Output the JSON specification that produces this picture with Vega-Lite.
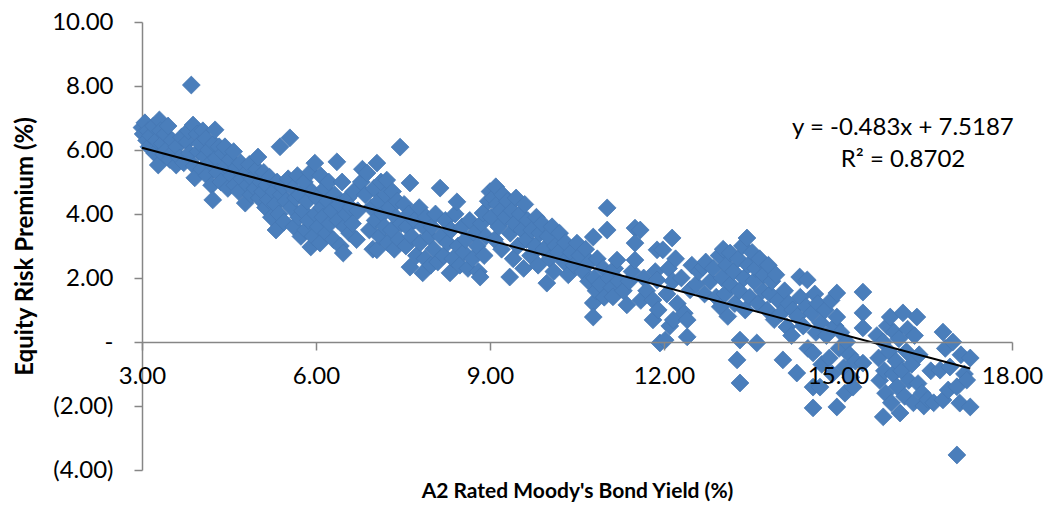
{
  "$schema": "https://vega.github.io/schema/vega-lite/v6.json",
  "width": 870,
  "height": 448,
  "autosize": "none",
  "padding": {"left": 142, "top": 22, "right": 34, "bottom": 36},
  "background": "white",
  "config": {"view": {"stroke": null}, "font": "Lato"},
  "datasets": {
    "pts": [
      {"x":3.0,"y":6.7},{"x":3.02,"y":6.5},{"x":3.05,"y":6.85},{"x":3.08,"y":6.3},{"x":3.1,"y":6.6},{"x":3.12,"y":6.1},{"x":3.15,"y":6.45},{"x":3.2,"y":6.75},{"x":3.22,"y":5.9},{"x":3.25,"y":6.3},
      {"x":3.28,"y":5.53},{"x":3.3,"y":6.94},{"x":3.32,"y":6.6},{"x":3.35,"y":6.2},{"x":3.38,"y":5.85},{"x":3.4,"y":6.5},{"x":3.42,"y":6.0},{"x":3.45,"y":6.75},{"x":3.48,"y":5.7},
      {"x":3.52,"y":6.3},{"x":3.55,"y":5.95},{"x":3.59,"y":5.53},{"x":3.6,"y":6.1},{"x":3.65,"y":5.75},{"x":3.68,"y":6.4},{"x":3.72,"y":5.6},
      {"x":3.78,"y":6.25},{"x":3.8,"y":6.6},{"x":3.82,"y":5.9},{"x":3.85,"y":8.03},{"x":3.88,"y":6.78},{"x":3.9,"y":5.5},{"x":3.91,"y":5.13},{"x":3.95,"y":6.5},{"x":3.97,"y":5.95},
      {"x":4.0,"y":6.2},{"x":4.03,"y":5.4},{"x":4.05,"y":6.6},{"x":4.08,"y":5.8},{"x":4.1,"y":6.35},{"x":4.12,"y":5.2},{"x":4.15,"y":6.0},{"x":4.18,"y":5.6},{"x":4.2,"y":4.9},{"x":4.22,"y":4.44},{"x":4.24,"y":6.2},
      {"x":4.26,"y":6.63},{"x":4.28,"y":5.75},{"x":4.3,"y":5.3},{"x":4.33,"y":6.1},{"x":4.36,"y":5.0},{"x":4.4,"y":5.9},{"x":4.43,"y":6.1},{"x":4.45,"y":5.5},{"x":4.48,"y":4.8},
      {"x":4.52,"y":5.7},{"x":4.55,"y":5.2},{"x":4.58,"y":5.95},{"x":4.6,"y":4.9},{"x":4.63,"y":5.45},{"x":4.67,"y":4.7},{"x":4.7,"y":5.6},{"x":4.72,"y":5.1},
      {"x":4.78,"y":4.34},{"x":4.8,"y":5.3},{"x":4.82,"y":4.9},{"x":4.85,"y":5.55},{"x":4.88,"y":4.6},{"x":4.9,"y":5.1},{"x":4.95,"y":4.8},{"x":4.98,"y":5.4},
      {"x":5.0,"y":5.78},{"x":5.02,"y":4.5},{"x":5.05,"y":5.0},{"x":5.08,"y":4.7},{"x":5.1,"y":5.3},{"x":5.13,"y":4.2},{"x":5.15,"y":4.9},{"x":5.18,"y":4.45},{"x":5.2,"y":5.15},{"x":5.23,"y":3.9},
      {"x":5.27,"y":4.7},{"x":5.3,"y":4.3},{"x":5.31,"y":3.5},{"x":5.33,"y":5.0},{"x":5.36,"y":4.0},{"x":5.38,"y":6.1},{"x":5.4,"y":4.6},{"x":5.43,"y":4.85},{"x":5.45,"y":3.75},{"x":5.48,"y":4.4},
      {"x":5.52,"y":5.1},{"x":5.55,"y":6.38},{"x":5.57,"y":4.2},{"x":5.6,"y":4.8},{"x":5.62,"y":3.6},{"x":5.65,"y":4.5},{"x":5.68,"y":5.2},{"x":5.7,"y":3.9},{"x":5.72,"y":4.6},{"x":5.74,"y":3.3},
      {"x":5.77,"y":4.1},{"x":5.8,"y":5.0},{"x":5.82,"y":3.5},{"x":5.85,"y":4.4},{"x":5.87,"y":3.8},{"x":5.9,"y":5.3},{"x":5.91,"y":2.97},{"x":5.93,"y":4.7},{"x":5.95,"y":3.3},{"x":5.98,"y":5.59},{"x":5.99,"y":4.0},
      {"x":6.02,"y":4.5},{"x":6.04,"y":3.6},{"x":6.07,"y":3.09},{"x":6.08,"y":5.2},{"x":6.1,"y":4.2},{"x":6.12,"y":3.9},{"x":6.15,"y":4.8},{"x":6.18,"y":3.4},{"x":6.2,"y":4.4},{"x":6.22,"y":5.0},{"x":6.24,"y":3.7},
      {"x":6.27,"y":4.1},{"x":6.3,"y":3.2},{"x":6.32,"y":4.6},{"x":6.36,"y":5.63},{"x":6.38,"y":3.8},{"x":6.4,"y":4.3},{"x":6.42,"y":3.0},{"x":6.45,"y":5.0},{"x":6.47,"y":2.78},{"x":6.49,"y":3.6},
      {"x":6.52,"y":4.0},{"x":6.55,"y":4.5},{"x":6.58,"y":3.4},{"x":6.6,"y":4.2},{"x":6.63,"y":3.7},{"x":6.65,"y":4.7},{"x":6.7,"y":3.2},{"x":6.72,"y":4.1},
      {"x":6.78,"y":5.0},{"x":6.8,"y":5.4},{"x":6.85,"y":4.6},{"x":6.88,"y":5.28},{"x":6.92,"y":3.5},{"x":6.95,"y":4.2},{"x":6.98,"y":2.9},
      {"x":7.0,"y":4.8},{"x":7.02,"y":3.8},{"x":7.05,"y":5.59},{"x":7.05,"y":2.88},{"x":7.08,"y":4.4},{"x":7.1,"y":3.3},{"x":7.12,"y":5.0},{"x":7.15,"y":4.0},{"x":7.18,"y":3.6},{"x":7.2,"y":4.6},{"x":7.22,"y":5.06},{"x":7.24,"y":3.1},
      {"x":7.27,"y":4.2},{"x":7.3,"y":3.5},{"x":7.32,"y":4.7},{"x":7.35,"y":2.9},{"x":7.38,"y":3.9},{"x":7.4,"y":4.4},{"x":7.43,"y":3.2},{"x":7.45,"y":6.09},{"x":7.47,"y":3.7},
      {"x":7.52,"y":4.3},{"x":7.55,"y":3.0},{"x":7.57,"y":3.6},{"x":7.6,"y":4.0},{"x":7.62,"y":4.97},{"x":7.62,"y":2.34},{"x":7.65,"y":3.3},{"x":7.7,"y":3.8},{"x":7.73,"y":2.7},
      {"x":7.78,"y":4.2},{"x":7.8,"y":3.1},{"x":7.84,"y":2.16},{"x":7.85,"y":3.6},{"x":7.88,"y":2.6},{"x":7.9,"y":3.9},{"x":7.95,"y":3.3},{"x":7.98,"y":2.4},
      {"x":8.0,"y":3.6},{"x":8.03,"y":2.9},{"x":8.06,"y":4.0},{"x":8.1,"y":2.5},{"x":8.14,"y":4.81},{"x":8.15,"y":3.3},{"x":8.2,"y":2.7},{"x":8.23,"y":3.8},
      {"x":8.27,"y":3.1},{"x":8.31,"y":2.16},{"x":8.33,"y":3.5},{"x":8.36,"y":2.6},{"x":8.4,"y":4.0},{"x":8.43,"y":4.38},{"x":8.45,"y":3.0},{"x":8.48,"y":2.4},
      {"x":8.52,"y":3.6},{"x":8.55,"y":2.8},{"x":8.58,"y":3.2},{"x":8.62,"y":2.3},{"x":8.65,"y":3.8},{"x":8.7,"y":2.6},{"x":8.73,"y":3.4},
      {"x":8.78,"y":3.0},{"x":8.8,"y":2.2},{"x":8.83,"y":2.03},{"x":8.85,"y":3.7},{"x":8.88,"y":4.03},{"x":8.9,"y":2.7},{"x":8.93,"y":3.3},{"x":8.97,"y":4.4},
      {"x":9.0,"y":4.7},{"x":9.02,"y":3.9},{"x":9.05,"y":4.5},{"x":9.08,"y":3.2},{"x":9.1,"y":4.85},{"x":9.12,"y":4.3},{"x":9.15,"y":3.6},{"x":9.18,"y":4.1},{"x":9.2,"y":2.9},{"x":9.22,"y":4.6},
      {"x":9.27,"y":3.9},{"x":9.3,"y":4.4},{"x":9.34,"y":2.03},{"x":9.35,"y":3.4},{"x":9.38,"y":4.1},{"x":9.4,"y":2.6},{"x":9.42,"y":3.7},{"x":9.45,"y":4.5},{"x":9.48,"y":3.0},
      {"x":9.52,"y":4.0},{"x":9.55,"y":3.5},{"x":9.58,"y":2.3},{"x":9.6,"y":4.3},{"x":9.63,"y":3.2},{"x":9.65,"y":3.8},{"x":9.7,"y":2.7},{"x":9.72,"y":3.5},
      {"x":9.78,"y":3.0},{"x":9.8,"y":3.9},{"x":9.83,"y":2.4},{"x":9.86,"y":3.4},{"x":9.9,"y":3.7},{"x":9.93,"y":2.9},{"x":9.98,"y":1.84},
      {"x":10.0,"y":3.3},{"x":10.03,"y":2.6},{"x":10.07,"y":3.6},{"x":10.1,"y":2.2},{"x":10.13,"y":3.0},{"x":10.18,"y":2.8},{"x":10.2,"y":3.4},
      {"x":10.28,"y":2.5},{"x":10.3,"y":3.1},{"x":10.35,"y":2.1},{"x":10.4,"y":2.8},{"x":10.45,"y":2.4},{"x":10.5,"y":3.09},
      {"x":10.55,"y":2.7},{"x":10.6,"y":2.2},{"x":10.65,"y":2.9},{"x":10.7,"y":1.9},{"x":10.72,"y":2.5},
      {"x":10.78,"y":3.28},{"x":10.78,"y":1.22},{"x":10.78,"y":0.78},{"x":10.8,"y":2.0},{"x":10.83,"y":1.6},{"x":10.85,"y":2.6},{"x":10.9,"y":1.8},{"x":10.95,"y":2.3},{"x":10.97,"y":1.4},
      {"x":11.02,"y":4.19},{"x":11.02,"y":3.5},{"x":11.05,"y":2.0},{"x":11.1,"y":1.7},{"x":11.12,"y":1.41},{"x":11.15,"y":2.3},{"x":11.19,"y":2.56},{"x":11.22,"y":1.9},
      {"x":11.3,"y":1.6},{"x":11.36,"y":1.16},{"x":11.4,"y":1.9},{"x":11.45,"y":2.2},{"x":11.5,"y":3.56},{"x":11.5,"y":3.09},{"x":11.5,"y":2.56},
      {"x":11.59,"y":3.5},{"x":11.6,"y":1.3},{"x":11.65,"y":2.0},{"x":11.7,"y":1.6},
      {"x":11.81,"y":0.69},{"x":11.81,"y":1.31},{"x":11.85,"y":2.2},{"x":11.88,"y":2.88},{"x":11.88,"y":1.94},{"x":11.9,"y":1.0},{"x":11.93,"y":-0.03},{"x":11.98,"y":2.88},
      {"x":12.02,"y":0.06},{"x":12.05,"y":1.5},{"x":12.08,"y":2.3},{"x":12.1,"y":0.5},{"x":12.14,"y":3.25},{"x":12.15,"y":1.9},{"x":12.16,"y":0.69},{"x":12.2,"y":2.6},{"x":12.23,"y":1.2},
      {"x":12.3,"y":2.0},{"x":12.35,"y":0.9},{"x":12.4,"y":0.16},{"x":12.4,"y":0.69},{"x":12.45,"y":1.63},{"x":12.48,"y":2.4},
      {"x":12.55,"y":1.8},{"x":12.6,"y":2.2},{"x":12.67,"y":2.34},{"x":12.7,"y":1.5},{"x":12.72,"y":2.5},
      {"x":12.8,"y":1.9},{"x":12.85,"y":2.3},{"x":12.9,"y":1.4},{"x":12.95,"y":2.7},{"x":12.97,"y":1.1},
      {"x":13.0,"y":2.0},{"x":13.02,"y":2.9},{"x":13.05,"y":1.5},{"x":13.08,"y":2.4},{"x":13.1,"y":0.8},{"x":13.14,"y":2.78},{"x":13.15,"y":1.8},{"x":13.2,"y":2.2},{"x":13.22,"y":1.2},
      {"x":13.26,"y":-0.56},{"x":13.28,"y":2.6},{"x":13.3,"y":1.6},{"x":13.31,"y":0.06},{"x":13.31,"y":-1.28},{"x":13.35,"y":3.0},{"x":13.38,"y":2.0},{"x":13.4,"y":1.0},{"x":13.43,"y":3.25},{"x":13.45,"y":2.4},{"x":13.48,"y":1.4},
      {"x":13.52,"y":2.8},{"x":13.55,"y":1.9},{"x":13.58,"y":2.3},{"x":13.6,"y":-0.03},{"x":13.62,"y":1.2},{"x":13.65,"y":2.6},{"x":13.7,"y":1.6},{"x":13.72,"y":2.1},
      {"x":13.78,"y":1.0},{"x":13.8,"y":2.4},{"x":13.83,"y":1.5},{"x":13.86,"y":1.9},{"x":13.9,"y":0.7},{"x":13.93,"y":2.1},{"x":13.97,"y":1.3},
      {"x":14.02,"y":0.9},{"x":14.05,"y":-0.56},{"x":14.08,"y":1.6},{"x":14.12,"y":0.47},{"x":14.15,"y":1.2},{"x":14.2,"y":0.2},{"x":14.22,"y":1.0},
      {"x":14.29,"y":-0.97},{"x":14.3,"y":0.8},{"x":14.34,"y":2.03},{"x":14.35,"y":1.4},{"x":14.4,"y":0.5},{"x":14.45,"y":1.1},{"x":14.47,"y":1.94},{"x":14.48,"y":-0.2},
      {"x":14.55,"y":0.9},{"x":14.57,"y":-0.34},{"x":14.57,"y":-2.06},{"x":14.57,"y":-1.41},{"x":14.6,"y":1.5},{"x":14.62,"y":0.3},{"x":14.65,"y":1.2},{"x":14.69,"y":-1.41},{"x":14.7,"y":0.6},{"x":14.72,"y":-0.7},
      {"x":14.78,"y":1.0},{"x":14.8,"y":0.2},{"x":14.85,"y":-0.5},{"x":14.88,"y":1.3},{"x":14.9,"y":-1.0},{"x":14.95,"y":0.5},{"x":14.98,"y":1.53},{"x":14.98,"y":0.78},{"x":14.98,"y":-2.03},
      {"x":15.02,"y":-0.2},{"x":15.05,"y":0.3},{"x":15.1,"y":-0.8},{"x":15.12,"y":-1.6},{"x":15.15,"y":0.0},{"x":15.2,"y":-0.4},{"x":15.22,"y":-1.1},
      {"x":15.26,"y":-1.41},{"x":15.3,"y":-0.6},{"x":15.43,"y":1.56},{"x":15.43,"y":0.91},{"x":15.43,"y":0.44},{"x":15.43,"y":-0.66},
      {"x":15.67,"y":0.2},{"x":15.7,"y":-0.5},{"x":15.72,"y":-1.2},
      {"x":15.78,"y":-2.34},{"x":15.78,"y":0.0},{"x":15.8,"y":-0.9},{"x":15.82,"y":-1.6},{"x":15.85,"y":0.5},{"x":15.88,"y":-0.3},{"x":15.9,"y":0.78},{"x":15.92,"y":-1.9},{"x":15.95,"y":-1.0},{"x":15.97,"y":0.3},
      {"x":16.0,"y":-0.6},{"x":16.02,"y":-1.4},{"x":16.05,"y":0.1},{"x":16.07,"y":-2.22},{"x":16.1,"y":-0.9},{"x":16.12,"y":0.91},{"x":16.15,"y":-1.7},{"x":16.18,"y":-0.3},{"x":16.2,"y":0.4},{"x":16.22,"y":-1.2},
      {"x":16.27,"y":-0.7},{"x":16.3,"y":-1.9},{"x":16.32,"y":0.2},{"x":16.36,"y":0.78},{"x":16.38,"y":-1.3},{"x":16.4,"y":-0.4},{"x":16.45,"y":-1.6},{"x":16.48,"y":-2.0},
      {"x":16.55,"y":-1.8},{"x":16.6,"y":-0.9},{"x":16.65,"y":-1.9},
      {"x":16.76,"y":-0.88},{"x":16.81,"y":0.31},{"x":16.81,"y":-1.81},{"x":16.85,"y":-0.2},{"x":16.9,"y":-1.5},{"x":16.93,"y":-0.78},{"x":16.98,"y":0.0},
      {"x":17.05,"y":-3.53},{"x":17.05,"y":-1.4},{"x":17.1,"y":-1.91},{"x":17.12,"y":-0.4},{"x":17.18,"y":-1.0},{"x":17.22,"y":-1.19},{"x":17.28,"y":-0.5},{"x":17.28,"y":-2.03}
    ],
    "trend": [{"x": 3.0, "y": 6.07}, {"x": 17.28, "y": -0.828}],
    "eq": [{"x": 16.12, "y": 6.69, "label": "y = -0.483x + 7.5187\nR² = 0.8702"}]
  },
  "layer": [
    {
      "data": {"name": "pts"},
      "mark": {"type": "point", "shape": "diamond", "filled": true, "size": 320, "color": "#4a7ebb", "stroke": "#4677b3", "strokeWidth": 0.75, "opacity": 1},
      "encoding": {
        "x": {
          "field": "x", "type": "quantitative",
          "scale": {"domain": [3, 18], "nice": false, "zero": false},
          "axis": {
            "values": [3, 6, 9, 12, 15, 18], "format": ".2f", "offset": -128, "grid": false, "zindex": 1,
            "domainColor": "#868686", "domainWidth": 1.5, "tickColor": "#868686", "tickWidth": 1.5, "tickSize": 8,
            "labelFont": "Lato", "labelFontSize": 24, "labelColor": "#000000", "labelPadding": 14, "labelFlush": false,
            "title": "A2 Rated Moody's Bond Yield (%)", "titleFont": "Lato", "titleFontSize": 21, "titleFontWeight": "bold", "titleColor": "#000000", "titlePadding": 92
          }
        },
        "y": {
          "field": "y", "type": "quantitative",
          "scale": {"domain": [-4, 10], "nice": false, "zero": false},
          "axis": {
            "values": [-4, -2, 0, 2, 4, 6, 8, 10], "grid": false,
            "labelExpr": "datum.value == 0 ? '-\u2007\u2004' : (datum.value < 0 ? '(' + format(-datum.value, '.2f') + ')' : format(datum.value, '.2f') + '\u2004\u2005')",
            "domainColor": "#868686", "domainWidth": 1.5, "tickColor": "#868686", "tickWidth": 1.5, "tickSize": 8,
            "labelFont": "Lato", "labelFontSize": 24, "labelColor": "#000000", "labelPadding": 21, "labelFlush": false,
            "title": "Equity Risk Premium (%)", "titleFont": "Lato", "titleFontSize": 24, "titleFontWeight": "bold", "titleColor": "#000000", "titlePadding": 14
          }
        }
      }
    },
    {
      "data": {"name": "trend"},
      "mark": {"type": "line", "color": "#000000", "strokeWidth": 2},
      "encoding": {
        "x": {"field": "x", "type": "quantitative"},
        "y": {"field": "y", "type": "quantitative"}
      }
    },
    {
      "data": {"name": "eq"},
      "mark": {"type": "text", "font": "Lato", "fontSize": 24, "color": "#000000", "align": "center", "baseline": "middle", "lineBreak": "\n", "lineHeight": 32},
      "encoding": {
        "x": {"field": "x", "type": "quantitative"},
        "y": {"field": "y", "type": "quantitative"},
        "text": {"field": "label"}
      }
    }
  ]
}
